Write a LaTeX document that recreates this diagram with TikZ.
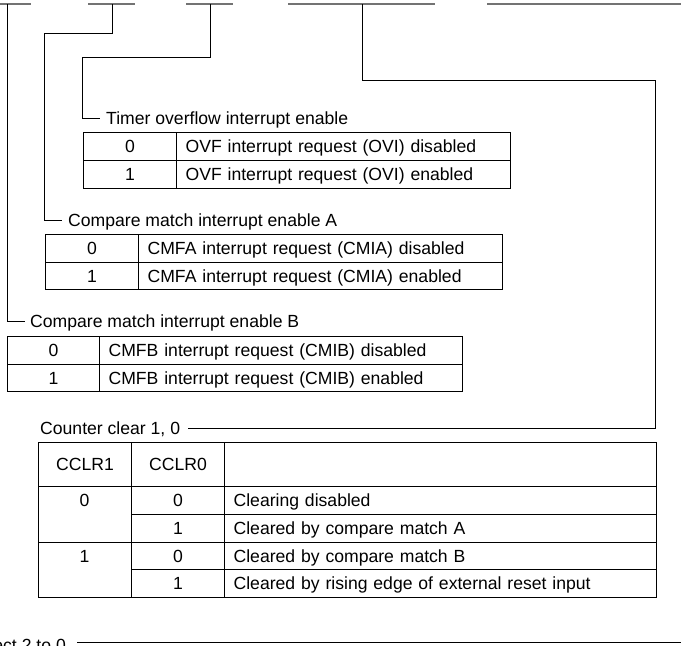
\documentclass[tikz,border=0pt]{standalone}
\usepackage{fontspec}
\setmainfont{Liberation Sans}
\newcommand\dgfs{\fontsize{17.6}{20}\selectfont}
\tikzset{
  bar/.style={draw=black!55, line width=1.3pt},
  wire/.style={draw=black, line width=0.9pt},
  lbl/.style={inner sep=0pt, font=\dgfs, text height=12.6pt, text depth=0pt},
  cellbase/.style={draw=black, line width=1.2pt, anchor=north west, inner ysep=0pt, font=\dgfs, text height=12.6pt, text depth=0pt},
  cellC/.style n args={2}{cellbase, inner xsep=0pt, minimum width=#1, minimum height=#2, align=center},
  cellL/.style n args={2}{cellbase, inner xsep=9pt, text width=#1-18pt, minimum height=#2, align=left},
  txt/.style={inner sep=0pt, font=\dgfs, text height=12.6pt, text depth=0pt}
}
\begin{document}
\begin{tikzpicture}[x=1pt,y=-1pt]
\useasboundingbox (0,0) rectangle (681,646);
% top bars
\coordinate (b1a) at (0,4);   \coordinate (b1b) at (31,4);
\coordinate (b2a) at (88,4);  \coordinate (b2b) at (135,4);
\coordinate (b3a) at (186,4); \coordinate (b3b) at (233,4);
\coordinate (b4a) at (288,4); \coordinate (b4b) at (435,4);
\coordinate (b5a) at (487,4); \coordinate (b5b) at (681,4);
\draw[bar] (b1a) -- (b1b);
\draw[bar] (b2a) -- (b2b);
\draw[bar] (b3a) -- (b3b);
\draw[bar] (b4a) -- (b4b);
\draw[bar] (b5a) -- (b5b);
\coordinate (t1) at (7,4);
\coordinate (t2) at (112,4);
\coordinate (t3) at (210,4);
\coordinate (t4) at (362,4);
\coordinate (k2) at (44,33);
\coordinate (k3) at (82,57);
\coordinate (k4) at (655,80);

% labels
\node[lbl, anchor=west] (lblT) at (106,118) {Timer overflow interrupt enable};
\node[lbl, anchor=west] (lblA) at (68,220) {Compare match interrupt enable A};
\node[lbl, anchor=west] (lblB) at (30,321) {Compare match interrupt enable B};
\node[lbl, anchor=west] (lblC) at (40,428) {Counter clear 1, 0};
\node[lbl, anchor=base east] (lblS) at (66,651) {ect 2 to 0};

% connectors
\draw[wire] (t3) |- (k3) |- ([xshift=-6pt]lblT.west);
\draw[wire] (t2) |- (k2) |- ([xshift=-6pt]lblA.west);
\draw[wire] (t1) |- ([xshift=-5pt]lblB.west);
\draw[wire] (t4) |- (k4) |- ([xshift=8pt]lblC.east);
\coordinate (sA) at (77,642);
\coordinate (sB) at (681,642);
\draw[wire] (sA) -- (sB);

% Timer overflow table
\node[cellC={93pt}{28pt}] (o0a) at (83,132) {0};
\node[cellL={334pt}{28pt}] (o0b) at (176,132) {OVF interrupt request (OVI) disabled};
\node[cellC={93pt}{28pt}] (o1a) at (83,160) {1};
\node[cellL={334pt}{28pt}] (o1b) at (176,160) {OVF interrupt request (OVI) enabled};

% Compare match A table
\node[cellC={93pt}{27.5pt}] (a0a) at (45,234) {0};
\node[cellL={364pt}{27.5pt}] (a0b) at (138,234) {CMFA interrupt request (CMIA) disabled};
\node[cellC={93pt}{27.5pt}] (a1a) at (45,261.5) {1};
\node[cellL={364pt}{27.5pt}] (a1b) at (138,261.5) {CMFA interrupt request (CMIA) enabled};

% Compare match B table
\node[cellC={92pt}{27.5pt}] (c0a) at (7,336) {0};
\node[cellL={363pt}{27.5pt}] (c0b) at (99,336) {CMFB interrupt request (CMIB) disabled};
\node[cellC={92pt}{27.5pt}] (c1a) at (7,363.5) {1};
\node[cellL={363pt}{27.5pt}] (c1b) at (99,363.5) {CMFB interrupt request (CMIB) enabled};

% Counter clear table
\node[cellC={93pt}{44pt}] (h1) at (38,442) {CCLR1};
\node[cellC={93pt}{44pt}] (h2) at (131,442) {CCLR0};
\node[cellC={432pt}{44pt}] (h3) at (224,442) {};
\node[cellC={93pt}{56pt}] (m1) at (38,486) {};
\node[cellC={93pt}{55pt}] (m2) at (38,542) {};
\node[txt] (m1t) at (84.5,500.5) {0};
\node[txt] (m2t) at (84.5,556) {1};
\node[cellC={93pt}{28pt}] (r1a) at (131,486) {0};
\node[cellL={432pt}{28pt}] (r1b) at (224,486) {Clearing disabled};
\node[cellC={93pt}{28pt}] (r2a) at (131,514) {1};
\node[cellL={432pt}{28pt}] (r2b) at (224,514) {Cleared by compare match A};
\node[cellC={93pt}{27pt}] (r3a) at (131,542) {0};
\node[cellL={432pt}{27pt}] (r3b) at (224,542) {Cleared by compare match B};
\node[cellC={93pt}{28pt}] (r4a) at (131,569) {1};
\node[cellL={432pt}{28pt}] (r4b) at (224,569) {Cleared by rising edge of external reset input};
\end{tikzpicture}
\end{document}
